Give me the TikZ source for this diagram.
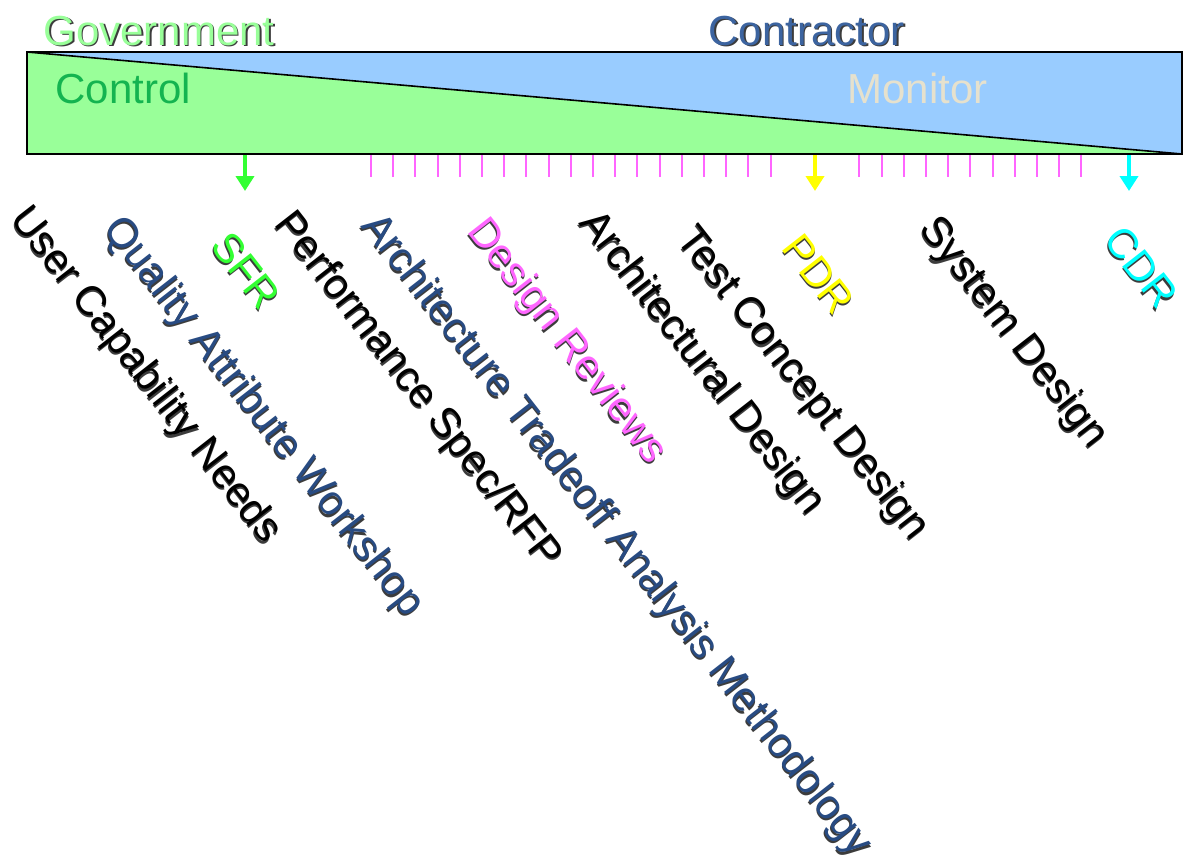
\documentclass[tikz,border=0pt]{standalone}
\usepackage{fontspec}
\setmainfont{Liberation Sans}
\usetikzlibrary{arrows.meta}

\definecolor{govfill}{RGB}{153,255,153}
\definecolor{confill}{RGB}{153,204,255}
\definecolor{govtext}{RGB}{153,255,153}
\definecolor{context}{RGB}{60,100,160}
\definecolor{ctltext}{RGB}{20,180,80}
\definecolor{montext}{RGB}{230,225,205}
\definecolor{darkblue}{RGB}{40,75,130}
\definecolor{sfrgreen}{RGB}{51,255,51}
\definecolor{reviewpink}{RGB}{255,102,255}
\definecolor{pdryellow}{RGB}{255,255,0}
\definecolor{cdrcyan}{RGB}{0,255,255}
\definecolor{shade}{RGB}{60,60,60}

% text with a small drop shadow
\newcommand{\shtext}[5]{%
	\node[#3, text=shade, xshift=0.8pt, yshift=-0.8pt] (#1s) at (#2) {#5};
	\node[#3, text=#4] (#1) at (#2) {#5};}

\begin{document}
\begin{tikzpicture}[x=0.5pt, y=-0.5pt,
	big/.style={font=\fontsize{21}{25}\selectfont, inner sep=0pt, anchor=base west},
	lbl/.style={font=\fontsize{20.8}{25}\selectfont, inner sep=0pt, anchor=north west, rotate=-52},
	tick/.style={reviewpink, line width=1pt},
	milestone/.style={line width=2.2pt, -{Triangle[width=9pt,length=7.5pt]}}]
	\useasboundingbox (0,0) rectangle (1183,858);
	% the two shares
	\fill[govfill] (27,52) -- (1182,154) -- (27,154) -- cycle;
	\fill[confill] (27,52) -- (1182,52) -- (1182,154) -- cycle;
	\draw[line width=0.8pt] (27,52) rectangle (1182,154);
	\draw[line width=0.8pt] (27,52) -- (1182,154);
	\shtext{gov}{43,45}{big}{govtext}{Government}
	\shtext{con}{708,45}{big}{context}{Contractor}
	\node[big, text=ctltext] (ctl) at (55,103) {Control};
	\node[big, text=montext] (mon) at (847,103) {Monitor};
	% design review ticks
	\foreach \k in {0,...,18,22,23,...,32}
		\draw[tick] (371+22.2*\k,155) -- ++(0,22);
	% milestones
	\coordinate (sfrtop) at (245,155);
	\coordinate (sfrend) at (245,191);
	\coordinate (pdrtop) at (815,155);
	\coordinate (pdrend) at (815,191);
	\coordinate (cdrtop) at (1129,155);
	\coordinate (cdrend) at (1129,191);
	\draw[milestone, sfrgreen] (sfrtop) -- (sfrend);
	\draw[milestone, pdryellow] (pdrtop) -- (pdrend);
	\draw[milestone, cdrcyan] (cdrtop) -- (cdrend);
	% activities
	\shtext{ucn}{33,200}{lbl}{black}{User Capability Needs}
	\shtext{qaw}{126,210}{lbl}{darkblue}{Quality Attribute Workshop}
	\shtext{sfr}{232,228}{lbl}{sfrgreen}{SFR}
	\shtext{rfp}{297,205}{lbl}{black}{Performance Spec/RFP}
	\shtext{atam}{384,207}{lbl}{darkblue}{Architecture Tradeoff Analysis Methodology}
	\shtext{dr}{490,212}{lbl}{reviewpink}{Design Reviews}
	\shtext{ad}{602,204}{lbl}{black}{Architectural Design}
	\shtext{tcd}{699,220}{lbl}{black}{Test Concept Design}
	\shtext{pdr}{803,230}{lbl}{pdryellow}{PDR}
	\shtext{sd}{942,210}{lbl}{black}{System Design}
	\shtext{cdr}{1125,222}{lbl}{cdrcyan}{CDR}
\end{tikzpicture}
\end{document}
